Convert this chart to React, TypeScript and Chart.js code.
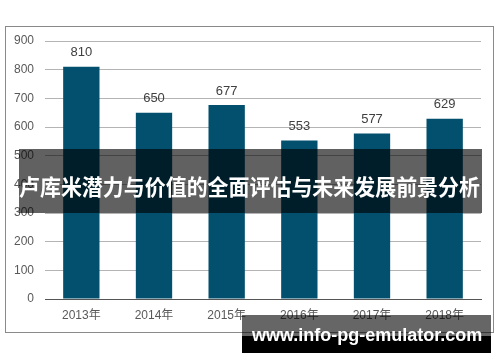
import React, { useEffect, useLayoutEffect, useRef } from "react";
import { Chart, registerables } from "chart.js";

Chart.register(...registerables);

const categories = ["2013年", "2014年", "2015年", "2016年", "2017年", "2018年"];
const values = [810, 650, 677, 553, 577, 629];
const yMin = 0;
const yMax = 900;
const yStep = 100;
const titleText = "卢库米潜力与价值的全面评估与未来发展前景分析";
const watermarkText = "www.info-pg-emulator.com";

const barColor = "#02506d";
const labelFont = "'Liberation Sans', Arial, 'Noto Sans CJK SC', sans-serif";

const valueLabelPlugin = {
  id: "valueLabels",
  afterDatasetsDraw(chart: any) {
    const ctx = chart.ctx;
    const meta = chart.getDatasetMeta(0);
    ctx.save();
    ctx.font = "13px " + labelFont;
    ctx.fillStyle = "#404040";
    ctx.textAlign = "center";
    ctx.textBaseline = "middle";
    meta.data.forEach((bar: any, i: number) => {
      ctx.fillText(String(values[i]), bar.x, bar.y - 14);
    });
    ctx.restore();
  },
};

export default function App() {
  const canvasRef = useRef<HTMLCanvasElement | null>(null);
  const titleRef = useRef<HTMLSpanElement | null>(null);

  useLayoutEffect(() => {
    const el = titleRef.current;
    if (!el) return;
    const w = el.getBoundingClientRect().width;
    if (w > 0) {
      el.style.transform = `scaleX(${461 / w})`;
    }
  }, []);

  useEffect(() => {
    if (!canvasRef.current) return;
    const chart = new Chart(canvasRef.current, {
      type: "bar",
      data: {
        labels: categories,
        datasets: [
          {
            data: values,
            backgroundColor: barColor,
            borderWidth: 0,
            categoryPercentage: 1,
            barPercentage: 0.5,
          },
        ],
      },
      options: {
        responsive: false,
        animation: false,
        events: [],
        layout: { padding: { left: 0, right: 19, top: 41, bottom: 33 } },
        plugins: {
          legend: { display: false },
          tooltip: { enabled: false },
          title: { display: false },
        },
        scales: {
          x: {
            grid: { display: false, drawTicks: false },
            border: { display: true, color: "#555555", width: 1 },
            ticks: {
              color: "#595959",
              font: { size: 12, family: labelFont },
              padding: 9,
              maxRotation: 0,
            },
            afterFit(scale: any) {
              scale.height = 30;
            },
          },
          y: {
            min: yMin,
            max: yMax,
            ticks: {
              stepSize: yStep,
              color: "#595959",
              font: { size: 12, family: labelFont },
              padding: 11,
            },
            grid: { color: "#b4b4b4", drawTicks: false, lineWidth: 1 },
            border: { display: false },
            afterFit(scale: any) {
              scale.width = 45;
            },
          },
        },
      },
      plugins: [valueLabelPlugin],
    });
    return () => chart.destroy();
  }, []);

  return (
    <div
      style={{
        position: "absolute",
        left: 0,
        top: 0,
        width: 500,
        height: 362,
        background: "#ffffff",
        overflow: "hidden",
      }}
    >
      <div
        style={{
          position: "absolute",
          left: 5,
          top: 26,
          width: 487,
          height: 305,
          border: "1px solid #8a8a8a",
        }}
      />
      <canvas
        ref={canvasRef}
        width={500}
        height={362}
        style={{ position: "absolute", left: 0, top: 0, width: 500, height: 362 }}
      />
      <div
        style={{
          position: "absolute",
          left: 19,
          top: 149,
          width: 463,
          height: 64,
          background: "rgba(0,0,0,0.62)",
        }}
      />
      <span
        ref={titleRef}
        style={{
          position: "absolute",
          left: 19,
          top: 172,
          display: "inline-block",
          transformOrigin: "0 50%",
          lineHeight: "26px",
          color: "#ffffff",
          fontFamily: "'Noto Sans CJK SC', sans-serif",
          fontWeight: 700,
          fontSize: 22,
          whiteSpace: "nowrap",
        }}
      >
        {titleText}
      </span>
      <div
        style={{
          position: "absolute",
          left: 242,
          top: 315,
          width: 249,
          height: 38,
          background:
            "linear-gradient(to bottom, rgba(0,0,0,0.6) 0px, rgba(0,0,0,0.6) 21px, #000000 21px, #000000 38px)",
        }}
      />
      <div
        style={{
          position: "absolute",
          left: 252,
          top: 326,
          lineHeight: "18px",
          color: "#ffffff",
          fontFamily: "'Liberation Sans', Arial, sans-serif",
          fontWeight: 700,
          fontSize: 18,
          whiteSpace: "nowrap",
        }}
      >
        {watermarkText}
      </div>
    </div>
  );
}
